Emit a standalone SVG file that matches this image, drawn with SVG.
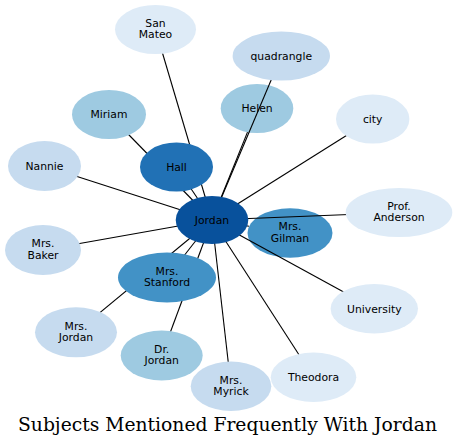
<svg xmlns="http://www.w3.org/2000/svg" width="457" height="447" viewBox="0 0 457 447">
<style>
.n text{font-family:"DejaVu Sans",sans-serif;font-size:10.8px;fill:#000;text-anchor:middle}
.c line{stroke:#000;stroke-width:1.1}
.b1{fill:#deebf7}.b2{fill:#c6dbef}.b3{fill:#9ecae1}.b5{fill:#4292c6}.b6{fill:#2171b5}.b7{fill:#08519c}
.title{font-family:"DejaVu Serif",serif;font-size:18px;fill:#000;text-anchor:middle}
</style>
<rect width="457" height="447" fill="#fff"/>
<g id="node-helen" class="n"><ellipse class="b3" cx="257" cy="108.5" rx="36.3" ry="24.5"/><text x="257" y="112.3">Helen</text></g>
<g id="node-gilman" class="n"><ellipse class="b5" cx="290" cy="233" rx="42.5" ry="24.7"/><text x="290" y="230.2">Mrs.</text><text x="290" y="241.8">Gilman</text></g>
<g id="connectors" class="c">
<line x1="212" y1="220" x2="155.5" y2="29.5"/>
<line x1="212" y1="220" x2="109" y2="114.5"/>
<line x1="212" y1="220" x2="44.5" y2="166"/>
<line x1="212" y1="220" x2="176.5" y2="167"/>
<line x1="212" y1="220" x2="281.3" y2="56"/>
<line x1="212" y1="220" x2="247.5" y2="132.1"/>
<line x1="212" y1="220" x2="372.7" y2="119"/>
<line x1="212" y1="220" x2="399" y2="212.5"/>
<line x1="212" y1="220" x2="249" y2="226.2"/>
<line x1="212" y1="220" x2="374.3" y2="308.7"/>
<line x1="212" y1="220" x2="313.5" y2="377.3"/>
<line x1="212" y1="220" x2="231" y2="386.3"/>
<line x1="212" y1="220" x2="161.7" y2="355.5"/>
<line x1="212" y1="220" x2="76" y2="332.3"/>
<line x1="212" y1="220" x2="167" y2="277.5"/>
<line x1="212" y1="220" x2="43" y2="250"/>
</g>
<g id="node-sanmateo" class="n"><ellipse class="b1" cx="155.5" cy="29.5" rx="40.5" ry="24.5"/><text x="155.5" y="26.8">San</text><text x="155.5" y="38.4">Mateo</text></g>
<g id="node-quadrangle" class="n"><ellipse class="b2" cx="281.3" cy="56" rx="48.7" ry="24.5"/><text x="281.3" y="59.8">quadrangle</text></g>
<g id="node-miriam" class="n"><ellipse class="b3" cx="109" cy="114.5" rx="37" ry="24.5"/><text x="109" y="118.3">Miriam</text></g>
<g id="node-city" class="n"><ellipse class="b1" cx="372.7" cy="119" rx="36.7" ry="24.5"/><text x="372.7" y="122.8">city</text></g>
<g id="node-nannie" class="n"><ellipse class="b2" cx="44.5" cy="166" rx="36.5" ry="25"/><text x="44.5" y="169.8">Nannie</text></g>
<g id="node-hall" class="n"><ellipse class="b6" cx="176.5" cy="167" rx="36.5" ry="24.5"/><text x="176.5" y="170.8">Hall</text></g>
<g id="node-anderson" class="n"><ellipse class="b1" cx="399" cy="212.5" rx="53.3" ry="24.5"/><text x="399" y="209.8">Prof.</text><text x="399" y="221.4">Anderson</text></g>
<g id="node-jordan" class="n"><ellipse class="b7" cx="212" cy="220" rx="36.3" ry="24"/><text x="212" y="223.8">Jordan</text></g>
<g id="node-baker" class="n"><ellipse class="b2" cx="43" cy="250" rx="38" ry="25"/><text x="43" y="247.3">Mrs.</text><text x="43" y="258.9">Baker</text></g>
<g id="node-stanford" class="n"><ellipse class="b5" cx="167" cy="277.5" rx="49" ry="25"/><text x="167" y="274.8">Mrs.</text><text x="167" y="286.4">Stanford</text></g>
<g id="node-university" class="n"><ellipse class="b1" cx="374.3" cy="308.7" rx="43.7" ry="24.7"/><text x="374.3" y="312.5">University</text></g>
<g id="node-mrsjordan" class="n"><ellipse class="b2" cx="76" cy="332.3" rx="41" ry="25"/><text x="76" y="329.6">Mrs.</text><text x="76" y="341.2">Jordan</text></g>
<g id="node-drjordan" class="n"><ellipse class="b3" cx="161.7" cy="355.5" rx="41" ry="25"/><text x="161.7" y="352.8">Dr.</text><text x="161.7" y="364.4">Jordan</text></g>
<g id="node-theodora" class="n"><ellipse class="b1" cx="313.5" cy="377.3" rx="42.8" ry="24.7"/><text x="313.5" y="381.1">Theodora</text></g>
<g id="node-myrick" class="n"><ellipse class="b2" cx="231" cy="386.3" rx="40.3" ry="24.7"/><text x="231" y="383.6">Mrs.</text><text x="231" y="395.2">Myrick</text></g>
<text class="title" x="227.5" y="431" textLength="419" lengthAdjust="spacingAndGlyphs">Subjects Mentioned Frequently With Jordan</text>
</svg>
